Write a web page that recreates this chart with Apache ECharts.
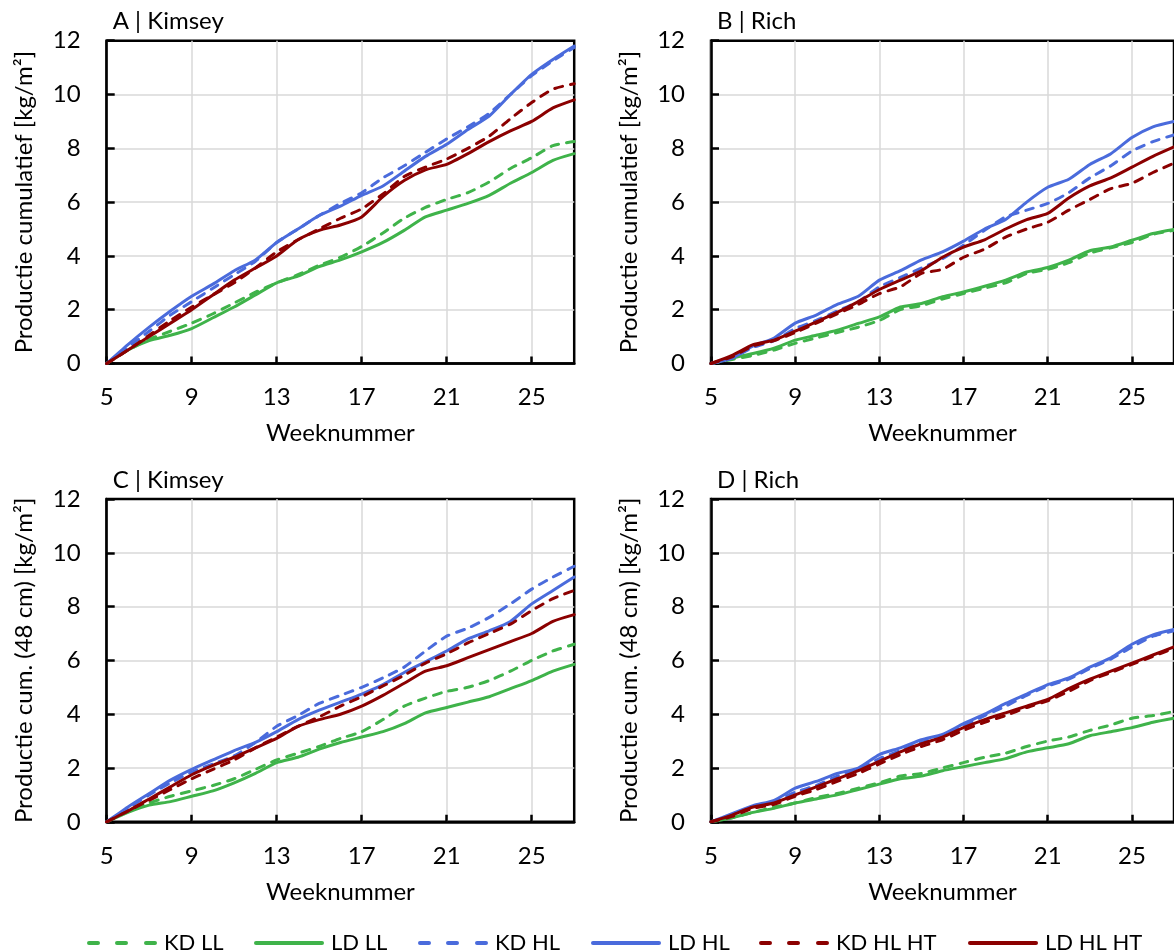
<!DOCTYPE html>
<html>
<head>
<meta charset="utf-8">
<script src="https://cdn.jsdelivr.net/npm/echarts@6/dist/echarts.min.js"></script>
<style>
  html, body { margin: 0; padding: 0; background: #ffffff; }
  #chart { width: 1174px; height: 950px; }
</style>
</head>
<body>
<div id="chart"></div>
<script>
// Weeks on the x axis
const weeks = [5, 6, 7, 8, 9, 10, 11, 12, 13, 14, 15, 16, 17, 18, 19, 20, 21, 22, 23, 24, 25, 26, 27];

const seriesNames = ['KD LL', 'LD LL', 'KD HL', 'LD HL', 'KD HL HT', 'LD HL HT'];
const panelTitles = ['A | Kimsey', 'B | Rich', 'C | Kimsey', 'D | Rich'];
const yNameTop = 'Productie cumulatief [kg/m²]';
const yNameBottom = 'Productie cum. (48 cm) [kg/m²]';
const xName = 'Weeknummer';

// A | Kimsey — cumulative production (kg/m²)
const aKdLL   = [0, 0.5, 0.9, 1.2, 1.5, 1.85, 2.25, 2.65, 3.0, 3.3, 3.65, 3.95, 4.35, 4.85, 5.4, 5.8, 6.1, 6.35, 6.75, 7.25, 7.65, 8.1, 8.25];
const aLdLL   = [0, 0.5, 0.85, 1.05, 1.3, 1.7, 2.1, 2.55, 3.0, 3.25, 3.6, 3.85, 4.15, 4.5, 4.95, 5.45, 5.7, 5.95, 6.25, 6.7, 7.1, 7.55, 7.8];
const aKdHL   = [0, 0.6, 1.2, 1.8, 2.3, 2.8, 3.3, 3.8, 4.5, 5.0, 5.5, 5.95, 6.35, 6.9, 7.35, 7.85, 8.35, 8.8, 9.3, 10.0, 10.7, 11.25, 11.75];
const aLdHL   = [0, 0.7, 1.35, 1.95, 2.5, 2.95, 3.45, 3.85, 4.5, 5.0, 5.5, 5.85, 6.25, 6.6, 7.15, 7.7, 8.15, 8.7, 9.2, 10.0, 10.75, 11.3, 11.8];
const aKdHLHT = [0, 0.5, 1.05, 1.6, 2.1, 2.55, 3.0, 3.55, 4.15, 4.6, 5.0, 5.4, 5.75, 6.3, 6.95, 7.3, 7.6, 8.0, 8.45, 9.1, 9.7, 10.2, 10.4];
const aLdHLHT = [0, 0.5, 1.0, 1.5, 2.0, 2.55, 3.1, 3.55, 4.0, 4.6, 4.95, 5.15, 5.45, 6.2, 6.8, 7.2, 7.4, 7.8, 8.25, 8.65, 9.0, 9.5, 9.8];

// B | Rich — cumulative production (kg/m²)
const bKdLL   = [0, 0.15, 0.3, 0.5, 0.75, 0.95, 1.15, 1.35, 1.6, 2.0, 2.15, 2.4, 2.6, 2.8, 3.0, 3.35, 3.5, 3.75, 4.1, 4.3, 4.5, 4.8, 4.95];
const bLdLL   = [0, 0.2, 0.37, 0.57, 0.87, 1.05, 1.24, 1.49, 1.73, 2.1, 2.23, 2.48, 2.66, 2.87, 3.1, 3.4, 3.57, 3.84, 4.19, 4.33, 4.58, 4.83, 4.98];
const bKdHL   = [0, 0.2, 0.6, 0.85, 1.3, 1.6, 1.95, 2.3, 2.85, 3.2, 3.55, 3.9, 4.4, 4.95, 5.45, 5.7, 5.95, 6.35, 6.9, 7.35, 7.9, 8.25, 8.5];
const bLdHL   = [0, 0.2, 0.65, 0.95, 1.5, 1.8, 2.2, 2.5, 3.1, 3.45, 3.85, 4.15, 4.55, 5.0, 5.35, 6.0, 6.55, 6.85, 7.4, 7.8, 8.4, 8.8, 9.0];
const bKdHLHT = [0, 0.25, 0.65, 0.85, 1.15, 1.5, 1.85, 2.2, 2.6, 2.85, 3.35, 3.5, 3.95, 4.25, 4.7, 5.0, 5.25, 5.7, 6.1, 6.5, 6.7, 7.1, 7.45];
const bLdHLHT = [0, 0.3, 0.7, 0.87, 1.2, 1.55, 1.9, 2.3, 2.75, 3.1, 3.45, 3.95, 4.33, 4.6, 5.0, 5.35, 5.58, 6.15, 6.6, 6.9, 7.3, 7.7, 8.05];

// C | Kimsey — cumulative production at 48 cm (kg/m²)
const cKdLL   = [0, 0.4, 0.7, 0.95, 1.15, 1.35, 1.6, 1.95, 2.3, 2.55, 2.8, 3.1, 3.35, 3.8, 4.3, 4.6, 4.85, 5.0, 5.25, 5.6, 6.0, 6.35, 6.6];
const cLdLL   = [0, 0.35, 0.62, 0.75, 0.95, 1.15, 1.45, 1.8, 2.2, 2.4, 2.7, 2.95, 3.15, 3.35, 3.65, 4.05, 4.25, 4.45, 4.65, 4.95, 5.25, 5.6, 5.85];
const cKdHL   = [0, 0.5, 1.0, 1.45, 1.85, 2.15, 2.45, 2.95, 3.55, 3.95, 4.4, 4.7, 5.0, 5.35, 5.75, 6.35, 6.9, 7.2, 7.6, 8.1, 8.65, 9.1, 9.5];
const cLdHL   = [0, 0.55, 1.05, 1.55, 1.95, 2.3, 2.65, 2.95, 3.35, 3.8, 4.15, 4.45, 4.75, 5.1, 5.55, 5.95, 6.35, 6.8, 7.1, 7.45, 8.1, 8.6, 9.1];
const cKdHLHT = [0, 0.4, 0.8, 1.2, 1.6, 1.95, 2.3, 2.75, 3.15, 3.55, 3.9, 4.3, 4.65, 5.05, 5.45, 5.9, 6.25, 6.65, 7.0, 7.35, 7.85, 8.3, 8.6];
const cLdHLHT = [0, 0.4, 0.85, 1.3, 1.75, 2.1, 2.4, 2.75, 3.1, 3.55, 3.8, 4.0, 4.3, 4.7, 5.15, 5.6, 5.8, 6.1, 6.4, 6.7, 7.0, 7.45, 7.7];

// D | Rich — cumulative production at 48 cm (kg/m²)
const dKdLL   = [0, 0.15, 0.35, 0.55, 0.7, 0.9, 1.05, 1.25, 1.45, 1.7, 1.8, 2.0, 2.2, 2.4, 2.55, 2.8, 3.0, 3.15, 3.4, 3.6, 3.85, 3.95, 4.1];
const dLdLL   = [0, 0.15, 0.35, 0.5, 0.7, 0.85, 1.0, 1.2, 1.4, 1.6, 1.7, 1.9, 2.05, 2.2, 2.35, 2.6, 2.75, 2.9, 3.2, 3.35, 3.5, 3.7, 3.85];
const dKdHL   = [0, 0.25, 0.55, 0.75, 1.1, 1.35, 1.7, 1.95, 2.35, 2.65, 2.95, 3.2, 3.55, 3.95, 4.3, 4.7, 5.05, 5.3, 5.7, 6.05, 6.5, 6.9, 7.1];
const dLdHL   = [0, 0.3, 0.6, 0.8, 1.25, 1.5, 1.8, 2.0, 2.5, 2.75, 3.05, 3.25, 3.65, 4.0, 4.4, 4.75, 5.1, 5.35, 5.75, 6.1, 6.6, 6.95, 7.15];
const dKdHLHT = [0, 0.2, 0.5, 0.65, 0.95, 1.2, 1.5, 1.8, 2.15, 2.5, 2.8, 3.05, 3.4, 3.7, 3.95, 4.25, 4.5, 4.85, 5.25, 5.55, 5.85, 6.15, 6.45];
const dLdHLHT = [0, 0.25, 0.55, 0.7, 1.0, 1.3, 1.6, 1.9, 2.25, 2.6, 2.9, 3.15, 3.5, 3.8, 4.05, 4.3, 4.55, 4.95, 5.3, 5.6, 5.9, 6.2, 6.5];

const panelData = [
  [aKdLL, aLdLL, aKdHL, aLdHL, aKdHLHT, aLdHLHT],
  [bKdLL, bLdLL, bKdHL, bLdHL, bKdHLHT, bLdHLHT],
  [cKdLL, cLdLL, cKdHL, cLdHL, cKdHLHT, cLdHLHT],
  [dKdLL, dLdLL, dKdHL, dLdHL, dKdHLHT, dLdHLHT]
];

const GREEN = '#3fb34a';
const BLUE = '#4a6bdc';
const RED = '#8b0000';
const seriesColors = [GREEN, GREEN, BLUE, BLUE, RED, RED];
const seriesDashed = [true, false, true, false, true, false];

const FONT = 'Lato';
const FS = 24;

// Plot rectangles: left column / right column, top row / bottom row
const colLeft = [106.7, 711];
const rowTop = [40.7, 499];
const plotW = 467.5;
const plotH = 322.8;

// Left edge of each legend entry along the bottom row
const legendLeft = [82, 249, 413, 586, 754, 963];

// Legend keys in a 70×4 box: three rounded dashes, or one rounded bar
const ICON_DASHED = 'path://M2,0H11A2,2 0 0 1 11,4H2A2,2 0 0 1 2,0Z' +
  'M30,0H39A2,2 0 0 1 39,4H30A2,2 0 0 1 30,0Z' +
  'M59,0H68A2,2 0 0 1 68,4H59A2,2 0 0 1 59,0Z';
const ICON_SOLID = 'path://M2,0H68A2,2 0 0 1 68,4H2A2,2 0 0 1 2,0Z';

const grids = [], xAxes = [], yAxes = [], titles = [], series = [];

panelTitles.forEach(function (t, p) {
  const col = p % 2, row = Math.floor(p / 2);
  grids.push({
    left: colLeft[col], top: rowTop[row], width: plotW, height: plotH,
    show: true, borderColor: '#000', borderWidth: 2.5, backgroundColor: 'transparent'
  });
  titles.push({
    text: t, left: colLeft[col] + 1, top: rowTop[row] - 36,
    textStyle: { fontFamily: FONT, fontSize: FS, fontWeight: 'normal', color: '#000' }
  });
  xAxes.push({
    type: 'category', gridIndex: p, data: weeks, boundaryGap: false,
    name: xName, nameLocation: 'middle', nameGap: 58,
    nameTextStyle: { fontFamily: FONT, fontSize: FS, color: '#000' },
    axisLine: { lineStyle: { color: '#000', width: 2.5 } },
    axisTick: { inside: true, length: 7, interval: 3, lineStyle: { color: '#000', width: 2.5 } },
    axisLabel: { interval: 3, margin: 22, fontFamily: FONT, fontSize: FS, color: '#000' },
    splitLine: { show: true, interval: 3, lineStyle: { color: '#d9d9d9', width: 1.5 } }
  });
  yAxes.push({
    type: 'value', gridIndex: p, min: 0, max: 12, interval: 2,
    name: row === 0 ? yNameTop : yNameBottom,
    nameLocation: 'middle', nameGap: 70, nameRotate: 90,
    nameTextStyle: { fontFamily: FONT, fontSize: FS, color: '#000' },
    axisLine: { show: true, lineStyle: { color: '#000', width: 2.5 } },
    axisTick: { show: true, inside: true, length: 8, lineStyle: { color: '#000', width: 2.5 } },
    axisLabel: { margin: 26, fontFamily: FONT, fontSize: FS, color: '#000' },
    splitLine: { show: true, showMinLine: false, showMaxLine: false, lineStyle: { color: '#d9d9d9', width: 1.5 } }
  });
  panelData[p].forEach(function (vals, s) {
    series.push({
      name: seriesNames[s], type: 'line', xAxisIndex: p, yAxisIndex: p,
      data: vals, symbol: 'none', smooth: 0.2,
      color: seriesColors[s],
      lineStyle: {
        color: seriesColors[s], width: 3, cap: 'round', join: 'round',
        type: seriesDashed[s] ? [8, 8] : 'solid'
      },
      emphasis: { disabled: true }
    });
  });
});

// One legend block per entry so each sits at its own place along the bottom
const legends = seriesNames.map(function (n, s) {
  return {
    data: [{ name: n, icon: seriesDashed[s] ? ICON_DASHED : ICON_SOLID }],
    left: legendLeft[s], top: 927,
    itemWidth: 70, itemHeight: 4, itemGap: 0,
    selectedMode: false,
    itemStyle: { color: seriesColors[s], borderWidth: 0 },
    textStyle: { fontFamily: FONT, fontSize: 22, color: '#000', padding: [0, 0, 0, 2] }
  };
});

const chart = echarts.init(document.getElementById('chart'), null, { renderer: 'canvas' });
chart.setOption({
  animation: false,
  backgroundColor: '#ffffff',
  title: titles,
  grid: grids,
  xAxis: xAxes,
  yAxis: yAxes,
  legend: legends,
  series: series
});
</script>
</body>
</html>
